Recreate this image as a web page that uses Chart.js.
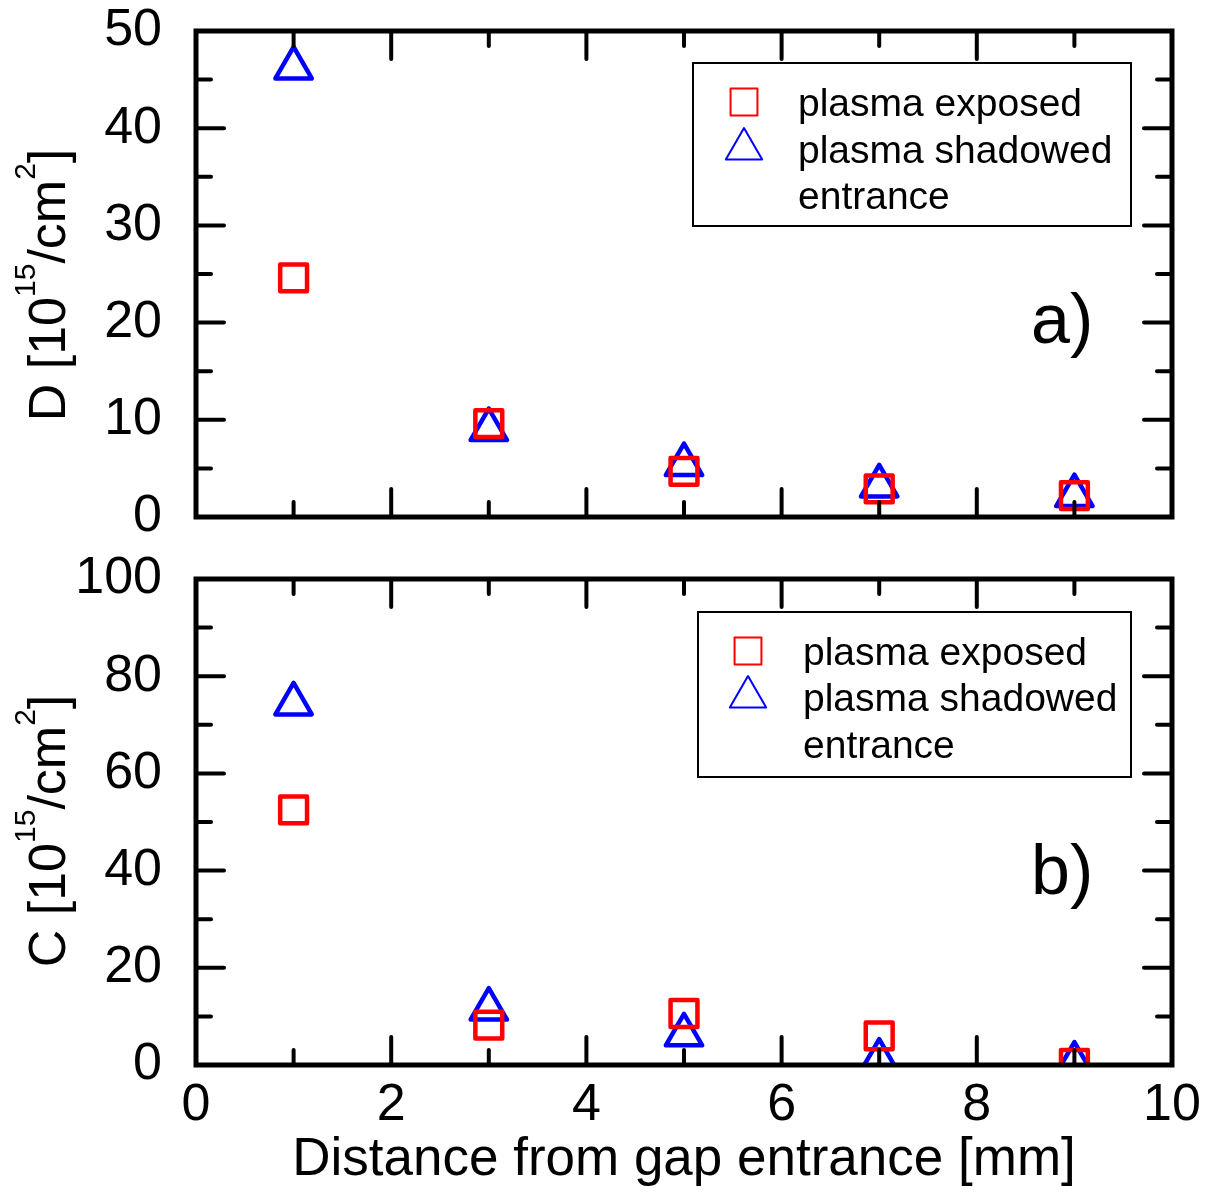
<!DOCTYPE html>
<html>
<head>
<meta charset="utf-8">
<title>D and C vs distance from gap entrance</title>
<script src="https://cdn.jsdelivr.net/npm/chart.js@4.4.1/dist/chart.umd.min.js"></script>
<style>
    html, body { margin: 0; padding: 0; background: #fff; }
    #wrap { position: relative; width: 1212px; height: 1193px; overflow: hidden; }
    .panel { position: absolute; left: 0; }
    #top-panel { top: 0; }
    #bottom-panel { top: 540px; }
</style>
</head>
<body>
<div id="wrap">
    <div class="panel" id="top-panel"><canvas id="chart-d" width="1212" height="560"></canvas></div>
    <div class="panel" id="bottom-panel"><canvas id="chart-c" width="1212" height="653"></canvas></div>
</div>
<script>
// Data
const distances = [1, 3, 5, 7, 9];
const dExposed = [24.6, 9.6, 4.7, 2.9, 2.2];
const dShadowed = [46.2, 9.0, 5.4, 3.2, 2.2];
const cExposed = [52.5, 8.2, 10.6, 6.0, 0.3];
const cShadowed = [74.3, 11.5, 6.2, 1.0, 0.4];

const exposedLabel = 'plasma exposed';
const shadowedLabel = ['plasma shadowed', 'entrance'];

// Axis ticks
const xMajorTicks = [0, 2, 4, 6, 8, 10];
const xMinorTicks = [1, 3, 5, 7, 9];
const dMajorTicks = [0, 10, 20, 30, 40, 50];
const dMinorTicks = [5, 15, 25, 35, 45];
const cMajorTicks = [0, 20, 40, 60, 80, 100];
const cMinorTicks = [10, 30, 50, 70, 90];

const FONT = "'Liberation Sans', Arial, Helvetica, sans-serif";

// Frame with inward ticks on all four sides
const frameTicks = {
    id: 'frameTicks',
    beforeDatasetsDraw(chart) {
        chart.ctx.save();
        chart.ctx.lineJoin = 'round';
    },
    afterDatasetsDraw(chart, args, opts) {
        const ctx = chart.ctx;
        ctx.restore();
        const { left, right, top, bottom } = chart.chartArea;
        const xs = chart.scales.x;
        const ys = chart.scales.y;
        const major = 28, minor = 15;

        ctx.save();
        ctx.strokeStyle = '#000';
        ctx.lineWidth = 4;
        ctx.lineCap = 'round';
        const line = (x1, y1, x2, y2) => {
            ctx.beginPath();
            ctx.moveTo(x1, y1);
            ctx.lineTo(x2, y2);
            ctx.stroke();
        };
        const xTick = (v, len) => {
            const px = xs.getPixelForValue(v);
            line(px, bottom, px, bottom - len);
            line(px, top, px, top + len);
        };
        const yTick = (v, len) => {
            const py = ys.getPixelForValue(v);
            line(left, py, left + len, py);
            line(right, py, right - len, py);
        };
        xMajorTicks.forEach(v => xTick(v, major));
        xMinorTicks.forEach(v => xTick(v, minor));
        opts.yMajor.forEach(v => yTick(v, major));
        opts.yMinor.forEach(v => yTick(v, minor));

        ctx.lineWidth = 5;
        ctx.lineCap = 'square';
        ctx.lineJoin = 'miter';
        ctx.strokeRect(left, top, right - left, bottom - top);
        ctx.restore();
    }
};

// Y title with superscripts, legend box and panel letter
const panelDecor = {
    id: 'panelDecor',
    afterDraw(chart, args, opts) {
        const ctx = chart.ctx;
        ctx.save();
        ctx.fillStyle = '#000';

        // rotated y title
        const parts = opts.yTitle;
        const big = 52, small = 30, raise = 30;
        ctx.textBaseline = 'alphabetic';
        let total = 0;
        parts.forEach(p => {
            ctx.font = (p.sup ? small : big) + 'px ' + FONT;
            total += ctx.measureText(p.t).width;
        });
        ctx.save();
        ctx.translate(opts.yTitleX, opts.yTitleY);
        ctx.rotate(-Math.PI / 2);
        let x = -total / 2;
        parts.forEach(p => {
            ctx.font = (p.sup ? small : big) + 'px ' + FONT;
            ctx.fillText(p.t, x, p.sup ? -raise : 0);
            x += ctx.measureText(p.t).width;
        });
        ctx.restore();

        // legend box
        const lg = opts.legend;
        ctx.lineWidth = 2;
        ctx.strokeStyle = '#000';
        ctx.strokeRect(lg.x, lg.y, lg.w, lg.h);
        ctx.font = '39px ' + FONT;
        ctx.textAlign = 'left';
        let row = 0;
        chart.data.datasets.forEach((ds, i) => {
            ctx.save();
            ctx.strokeStyle = ds.borderColor;
            ctx.fillStyle = 'rgba(0,0,0,0)';
            ctx.lineJoin = 'round';
            Chart.helpers.drawPoint(ctx, {
                pointStyle: ds.pointStyle,
                radius: ds.pointRadius,
                borderWidth: ds.borderWidth,
                rotation: 0
            }, lg.markerX, lg.rows[row] - 14);
            ctx.restore();
            const lines = Array.isArray(ds.label) ? ds.label : [ds.label];
            lines.forEach(t => {
                ctx.fillText(t, lg.textX, lg.rows[row]);
                row++;
            });
        });

        // panel letter
        ctx.font = '70px ' + FONT;
        ctx.fillText(opts.letter, opts.letterX, opts.letterY);
        ctx.restore();
    }
};

const makeDatasets = (exposed, shadowed) => [
    {
        label: exposedLabel,
        data: distances.map((d, i) => ({ x: d, y: exposed[i] })),
        pointStyle: 'rect',
        pointRadius: 19,
        borderWidth: 4.5,
        borderColor: '#ff0000',
        backgroundColor: 'rgba(0,0,0,0)',
        showLine: false,
        clip: 0
    },
    {
        label: shadowedLabel,
        data: distances.map((d, i) => ({ x: d, y: shadowed[i] })),
        pointStyle: 'triangle',
        pointRadius: 21,
        borderWidth: 4.5,
        borderColor: '#0000ff',
        backgroundColor: 'rgba(0,0,0,0)',
        showLine: false,
        clip: 0
    }
];

const tickFont = { family: FONT, size: 52, lineHeight: 1 };

// keep the plot area where the layout padding puts it
const fixYAxis = s => {
    s.width = 196;
    s.paddingTop = 0;
    s.paddingBottom = 0;
};

// Top panel: D
new Chart(document.getElementById('chart-d'), {
    type: 'scatter',
    data: { datasets: makeDatasets(dExposed, dShadowed) },
    options: {
        responsive: false,
        animation: false,
        events: [],
        layout: { autoPadding: false, padding: { left: 0, right: 40, top: 31, bottom: 43 } },
        plugins: {
            legend: { display: false },
            tooltip: { enabled: false },
            frameTicks: { yMajor: dMajorTicks, yMinor: dMinorTicks },
            panelDecor: {
                yTitle: [{ t: 'D [10' }, { t: '15', sup: true }, { t: '/cm' }, { t: '2', sup: true }, { t: ']' }],
                yTitleX: 65, yTitleY: 285,
                legend: { x: 693, y: 63, w: 438, h: 163, markerX: 744, textX: 798, rows: [116, 163, 209] },
                letter: 'a)', letterX: 1031, letterY: 343
            }
        },
        scales: {
            x: { type: 'linear', min: 0, max: 10, display: false },
            y: {
                type: 'linear',
                min: dMajorTicks[0],
                max: dMajorTicks[dMajorTicks.length - 1],
                ticks: { stepSize: 10, color: '#000', font: tickFont, padding: 34 },
                grid: { display: false, drawTicks: false },
                border: { display: false },
                afterFit: fixYAxis
            }
        }
    },
    plugins: [frameTicks, panelDecor]
});

// Bottom panel: C
new Chart(document.getElementById('chart-c'), {
    type: 'scatter',
    data: { datasets: makeDatasets(cExposed, cShadowed) },
    options: {
        responsive: false,
        animation: false,
        events: [],
        layout: { autoPadding: false, padding: { left: 0, right: 40, top: 39, bottom: 0 } },
        plugins: {
            legend: { display: false },
            tooltip: { enabled: false },
            frameTicks: { yMajor: cMajorTicks, yMinor: cMinorTicks },
            panelDecor: {
                yTitle: [{ t: 'C [10' }, { t: '15', sup: true }, { t: '/cm' }, { t: '2', sup: true }, { t: ']' }],
                yTitleX: 65, yTitleY: 291,
                legend: { x: 698, y: 72, w: 433, h: 165, markerX: 748, textX: 803, rows: [125, 171, 218] },
                letter: 'b)', letterX: 1031, letterY: 354
            }
        },
        scales: {
            x: {
                type: 'linear',
                min: xMajorTicks[0],
                max: xMajorTicks[xMajorTicks.length - 1],
                ticks: { stepSize: 2, color: '#000', font: tickFont, padding: 15, maxRotation: 0 },
                grid: { display: false, drawTicks: false },
                border: { display: false },
                title: {
                    display: true,
                    text: 'Distance from gap entrance [mm]',
                    color: '#000',
                    font: { family: FONT, size: 53, lineHeight: 1 },
                    padding: { top: 0, bottom: 6 }
                },
                afterFit: s => {
                    s.height = 128;
                    s.paddingLeft = 0;
                    s.paddingRight = 0;
                }
            },
            y: {
                type: 'linear',
                min: cMajorTicks[0],
                max: cMajorTicks[cMajorTicks.length - 1],
                ticks: { stepSize: 20, color: '#000', font: tickFont, padding: 34 },
                grid: { display: false, drawTicks: false },
                border: { display: false },
                afterFit: fixYAxis
            }
        }
    },
    plugins: [frameTicks, panelDecor]
});
</script>
</body>
</html>
